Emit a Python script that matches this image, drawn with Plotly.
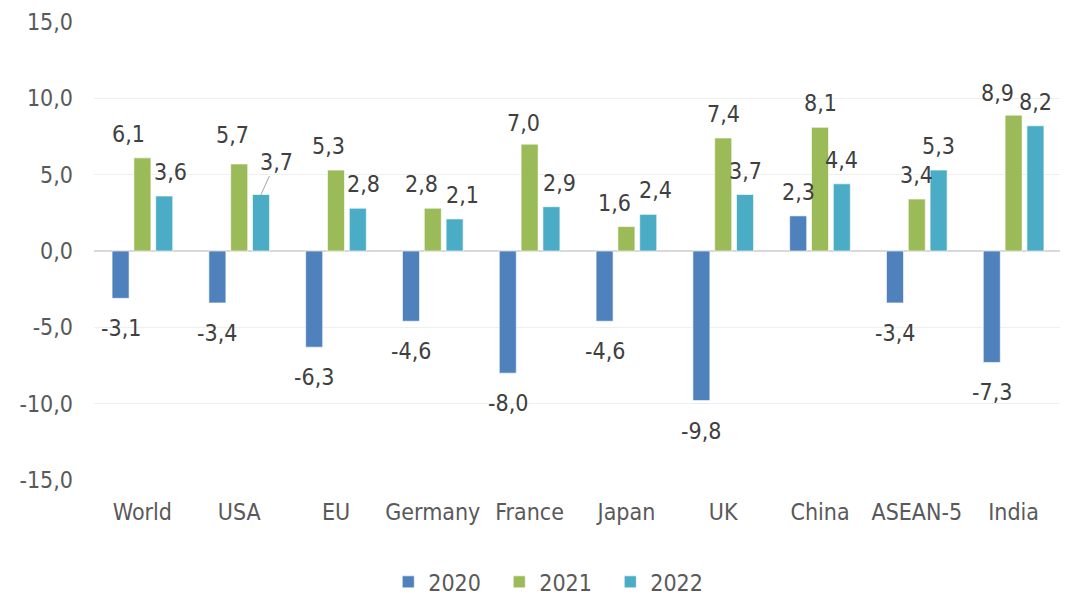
import plotly.graph_objects as go

categories = ["World", "USA", "EU", "Germany", "France", "Japan", "UK", "China", "ASEAN-5", "India"]
years = ["2020", "2021", "2022"]
v2020 = [-3.1, -3.4, -6.3, -4.6, -8.0, -4.6, -9.8, 2.3, -3.4, -7.3]
v2021 = [6.1, 5.7, 5.3, 2.8, 7.0, 1.6, 7.4, 8.1, 3.4, 8.9]
v2022 = [3.6, 3.7, 2.8, 2.1, 2.9, 2.4, 3.7, 4.4, 5.3, 8.2]
series = [v2020, v2021, v2022]
colors = ["#4F81BD", "#9BBB59", "#4BACC6"]
yticks = [-15, -10, -5, 0, 5, 10, 15]

FONT = "DejaVu Sans Condensed, DejaVu Sans, sans-serif"
FS = 23

def fmt(v):
    return f"{v:.1f}".replace(".", ",")

fig = go.Figure()
for name, vals, col in zip(years, series, colors):
    fig.add_trace(go.Bar(
        name=name, x=categories, y=vals,
        marker=dict(color=col, line=dict(color="rgba(255,255,255,0.6)", width=1)),
    ))

# label placement tweaks (pixel nudges: dx, dy) keyed by (series index, category index)
nudge = {
    (1, 0): (-14, 0), (2, 0): (6, 0),
    (1, 1): (-7, 5),
    (1, 2): (-8, 0), (2, 2): (6, 0),
    (1, 3): (-11, 0), (2, 3): (8, 0),
    (1, 4): (-6, -3), (2, 4): (8, 0),
    (1, 5): (-12, 0), (2, 5): (7, 0),
    (1, 9): (-16, -2),
}
series_shift = [-21.8, 0, 21.8]

for si, vals in enumerate(series):
    for ci, v in enumerate(vals):
        dx, dy = nudge.get((si, ci), (0, 0))
        if si == 2 and ci == 1:
            fig.add_annotation(
                x=categories[ci], y=v, xref="x", yref="y", text=fmt(v),
                xshift=series_shift[si], showarrow=True, arrowhead=0, arrowwidth=1,
                arrowcolor="#A6A6A6", ax=15, ay=-33, standoff=0,
                font=dict(family=FONT, size=FS, color="#404040"),
            )
            continue
        base = 24 if v >= 0 else -30
        fig.add_annotation(
            x=categories[ci], y=v, xref="x", yref="y", text=fmt(v),
            xshift=series_shift[si] + dx, yshift=base + dy, showarrow=False,
            yanchor="middle", xanchor="center",
            font=dict(family=FONT, size=FS, color="#404040"),
        )

fig.update_layout(
    width=1060, height=588,
    margin=dict(l=86, r=6, t=14, b=116, autoexpand=False),
    paper_bgcolor="white", plot_bgcolor="white",
    barmode="group", bargap=0.324, bargroupgap=0.22,
    font=dict(family=FONT, size=FS, color="#595959"),
    showlegend=True,
    legend=dict(orientation="h", x=0.476, xanchor="center", y=-0.2225, yanchor="middle",
                font=dict(family=FONT, size=FS, color="#595959"), itemwidth=30,
                entrywidth=66, entrywidthmode="pixels"),
)
fig.update_yaxes(
    range=[-15, 15], tickvals=yticks, ticktext=[fmt(t) for t in yticks],
    showgrid=True, gridcolor="#EFEFEF", gridwidth=1,
    zeroline=True, zerolinecolor="#D9D9D9", zerolinewidth=2,
    showline=False, ticks="", ticklabelstandoff=20, automargin=False,
    tickfont=dict(family=FONT, size=FS, color="#595959"),
)
fig.update_xaxes(
    showline=False, ticks="", ticklabelstandoff=16, showgrid=False, automargin=False,
    tickfont=dict(family=FONT, size=FS, color="#595959"),
)

fig.write_html("out.html")
